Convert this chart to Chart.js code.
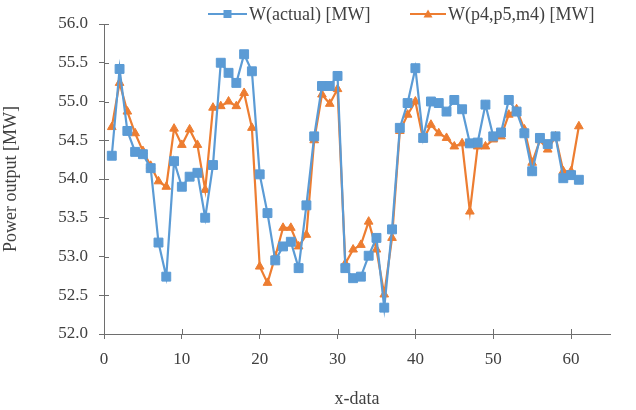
<!DOCTYPE html>
<html>
<head>
<meta charset="utf-8">
<script src="https://cdn.jsdelivr.net/npm/chart.js@4/dist/chart.umd.min.js"></script>
<style>
  html, body { margin: 0; padding: 0; background: #ffffff; }
  #wrap { width: 636px; height: 410px; }
</style>
</head>
<body>
<div id="wrap"><canvas id="c" width="636" height="410"></canvas></div>
<script>
// ---- data ----
const xData = [1,2,3,4,5,6,7,8,9,10,11,12,13,14,15,16,17,18,19,20,21,22,23,24,25,26,27,28,29,30,31,32,33,34,35,36,37,38,39,40,41,42,43,44,45,46,47,48,49,50,51,52,53,54,55,56,57,58,59,60,61];
const wActual = [54.30,55.42,54.62,54.35,54.32,54.14,53.18,52.74,54.23,53.90,
                 54.03,54.08,53.50,54.18,55.50,55.37,55.24,55.61,55.39,54.06,
                 53.56,52.95,53.13,53.19,52.85,53.66,54.55,55.20,55.20,55.33,
                 52.85,52.72,52.74,53.01,53.24,52.34,53.35,54.66,54.98,55.43,
                 54.53,55.00,54.98,54.87,55.02,54.90,54.46,54.47,54.96,54.55,
                 54.60,55.02,54.87,54.59,54.10,54.53,54.45,54.55,54.01,54.05,53.99];
const wModel = [54.67,55.24,54.87,54.59,54.36,54.17,53.97,53.90,54.65,54.44,
                54.64,54.44,53.86,54.92,54.94,55.00,54.94,55.11,54.66,52.87,
                52.66,53.00,53.37,53.37,53.13,53.28,54.50,55.09,54.97,55.16,
                52.91,53.09,53.15,53.45,53.09,52.51,53.24,54.62,54.83,55.00,
                54.51,54.70,54.59,54.53,54.42,54.46,53.58,54.42,54.42,54.51,
                54.55,54.83,54.90,54.64,54.21,54.50,54.38,54.55,54.10,54.10,54.68];
const seriesNames = ['W(actual) [MW]', 'W(p4,p5,m4) [MW]'];
const xTicks = [0,10,20,30,40,50,60];
const yTicks = [52.0,52.5,53.0,53.5,54.0,54.5,55.0,55.5,56.0];
const xTitle = 'x-data';
const yTitle = 'Power output [MW]';

const BLUE = '#5B9BD5';
const ORANGE = '#ED7D31';
const TEXT = '#404040';
const AXIS = '#6e6e6e';
const FONT = "'Liberation Serif', 'Times New Roman', serif";

const toPts = (ys) => xData.map((x, i) => ({ x: x, y: ys[i] }));

// inward half of the crossing tick marks
const crossTicks = {
  id: 'crossTicks',
  afterDraw(chart) {
    const ctx = chart.ctx, xs = chart.scales.x, ys = chart.scales.y;
    ctx.save();
    ctx.strokeStyle = AXIS;
    ctx.lineWidth = 1;
    ctx.beginPath();
    xTicks.forEach(v => {
      const px = Math.round(xs.getPixelForValue(v)) + 0.5;
      ctx.moveTo(px, ys.bottom); ctx.lineTo(px, ys.bottom - 5);
    });
    yTicks.forEach(v => {
      const py = Math.round(ys.getPixelForValue(v)) + 0.5;
      ctx.moveTo(xs.left, py); ctx.lineTo(xs.left + 5, py);
    });
    ctx.stroke();
    ctx.restore();
  }
};

// legend drawn as line + marker + text, like the reference
const lineLegend = {
  id: 'lineLegend',
  afterDraw(chart) {
    const ctx = chart.ctx;
    const items = [
      { x0: 208, len: 39, ds: chart.data.datasets[0] },
      { x0: 410, len: 36, ds: chart.data.datasets[1] }
    ];
    const y = 14;
    ctx.save();
    items.forEach(it => {
      ctx.strokeStyle = it.ds.borderColor;
      ctx.lineWidth = 2;
      ctx.beginPath();
      ctx.moveTo(it.x0, y); ctx.lineTo(it.x0 + it.len, y);
      ctx.stroke();
      ctx.fillStyle = it.ds.borderColor;
      const cx = it.x0 + it.len / 2;
      if (it.ds.pointStyle === 'rect') {
        ctx.fillRect(cx - 4, y - 4, 8, 8);
      } else {
        ctx.beginPath();
        ctx.moveTo(cx, y - 4.5); ctx.lineTo(cx + 4.5, y + 3.5); ctx.lineTo(cx - 4.5, y + 3.5);
        ctx.closePath(); ctx.fill();
      }
      ctx.fillStyle = TEXT;
      ctx.font = '18px ' + FONT;
      ctx.textBaseline = 'middle';
      ctx.textAlign = 'left';
      ctx.fillText(it.ds.label, it.x0 + it.len + 2, y + 1);
    });
    ctx.restore();
  }
};

new Chart(document.getElementById('c'), {
  type: 'line',
  data: {
    datasets: [
      {
        label: seriesNames[0],
        data: toPts(wActual),
        borderColor: BLUE,
        backgroundColor: BLUE,
        borderWidth: 2.2,
        pointStyle: 'rect',
        pointRadius: 6.3,
        pointBorderWidth: 1,
        tension: 0
      },
      {
        label: seriesNames[1],
        data: toPts(wModel),
        borderColor: ORANGE,
        backgroundColor: ORANGE,
        borderWidth: 2.2,
        pointStyle: 'triangle',
        pointRadius: 5,
        pointBorderWidth: 1,
        tension: 0
      }
    ]
  },
  options: {
    responsive: false,
    animation: false,
    layout: { padding: { top: 24, right: 26, left: 0, bottom: 0 } },
    plugins: {
      legend: { display: false },
      tooltip: { enabled: false }
    },
    scales: {
      x: {
        type: 'linear',
        min: 0,
        max: 65,
        afterBuildTicks(scale) { scale.ticks = xTicks.map(v => ({ value: v })); },
        afterFit(scale) { scale.height = 76; },
        ticks: { color: TEXT, font: { family: FONT, size: 17 }, padding: 10, maxRotation: 0 },
        grid: { display: true, drawOnChartArea: false, drawTicks: true, tickLength: 5, color: AXIS },
        border: { display: true, color: AXIS, width: 1 },
        title: { display: true, text: xTitle, color: TEXT, font: { family: FONT, size: 18 }, padding: { top: 0, bottom: 0 } }
      },
      y: {
        type: 'linear',
        min: 52,
        max: 56,
        afterBuildTicks(scale) { scale.ticks = yTicks.map(v => ({ value: v })); },
        afterFit(scale) { scale.width = 104; },
        ticks: { color: TEXT, font: { family: FONT, size: 17 }, padding: 11, callback: v => Number(v).toFixed(1) },
        grid: { display: true, drawOnChartArea: false, drawTicks: true, tickLength: 5, color: AXIS },
        border: { display: true, color: AXIS, width: 1 },
        title: { display: true, text: yTitle, color: TEXT, font: { family: FONT, size: 18 }, padding: { top: 0, bottom: 0 } }
      }
    }
  },
  plugins: [crossTicks, lineLegend]
});
</script>
</body>
</html>
